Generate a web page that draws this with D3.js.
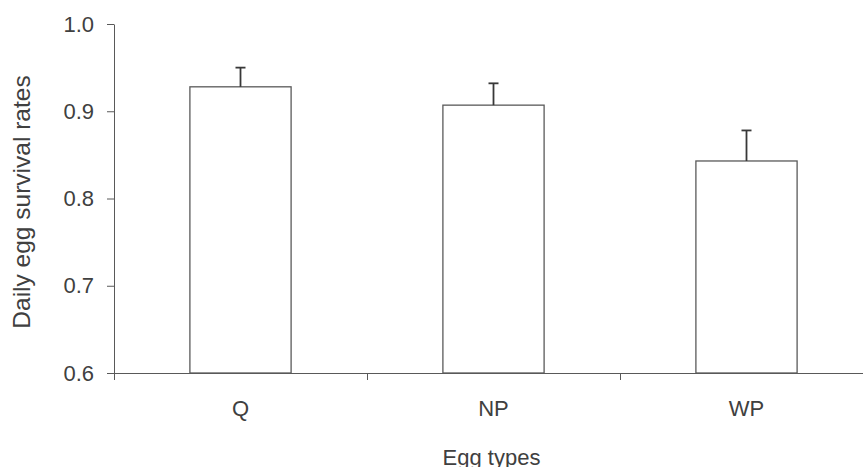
<!DOCTYPE html>
<html>
<head>
<meta charset="utf-8">
<script src="https://cdn.jsdelivr.net/npm/d3@7"></script>
<style>
  body { margin: 0; background: #fff; }
  svg { display: block; font-family: "Liberation Sans", Arial, sans-serif; }
</style>
</head>
<body>
<svg width="863" height="467"></svg>
<script>
// Chart data
const categories = ['Q', 'NP', 'WP'];
const survivalRates = [0.928, 0.907, 0.843];
const errors = [0.022, 0.025, 0.035];
const yTicks = [0.6, 0.7, 0.8, 0.9, 1.0];

const data = categories.map((c, i) => ({ name: c, value: survivalRates[i], err: errors[i] }));

const svg = d3.select('svg');
const plotLeft = 114, plotRight = 873, plotTop = 24, plotBottom = 373;
const lineColor = '#595959';
const textColor = '#404040';

// Scales
const x = d3.scaleBand()
    .domain(categories)
    .range([plotLeft, plotRight])
    .paddingInner(0.6)
    .paddingOuter(0.3);

const xEdges = d3.scaleLinear().domain([0, categories.length]).range([plotLeft, plotRight]);

const y = d3.scaleLinear().domain([0.6, 1.0]).range([plotBottom, plotTop]);

// Bars
svg.append('g')
    .selectAll('rect')
    .data(data)
    .enter()
    .append('rect')
    .attr('x', d => x(d.name))
    .attr('y', d => y(d.value))
    .attr('width', x.bandwidth())
    .attr('height', d => y(0.6) - y(d.value))
    .attr('fill', '#fff')
    .attr('stroke', lineColor)
    .attr('stroke-width', 1.3);

// Error bars (upper only)
const errG = svg.append('g')
    .attr('stroke', '#383838')
    .attr('stroke-width', 1.8);

errG.selectAll('line.stem')
    .data(data)
    .enter()
    .append('line')
    .attr('class', 'stem')
    .attr('x1', d => x(d.name) + x.bandwidth() / 2)
    .attr('x2', d => x(d.name) + x.bandwidth() / 2)
    .attr('y1', d => y(d.value))
    .attr('y2', d => y(d.value + d.err));

errG.selectAll('line.cap')
    .data(data)
    .enter()
    .append('line')
    .attr('class', 'cap')
    .attr('x1', d => x(d.name) + x.bandwidth() / 2 - 5)
    .attr('x2', d => x(d.name) + x.bandwidth() / 2 + 5)
    .attr('y1', d => y(d.value + d.err))
    .attr('y2', d => y(d.value + d.err));

// Y axis
const yAxis = svg.append('g')
    .attr('transform', `translate(${plotLeft},0)`)
    .call(d3.axisLeft(y)
        .tickValues(yTicks)
        .tickFormat(d3.format('.1f'))
        .tickSize(7)
        .tickSizeOuter(0)
        .tickPadding(13));

yAxis.select('.domain').attr('stroke', lineColor);
yAxis.selectAll('.tick line').attr('stroke', lineColor);
yAxis.selectAll('.tick text')
    .attr('fill', textColor)
    .style('font-size', '22px');

// X axis: ticks at category boundaries
const xAxis = svg.append('g')
    .attr('transform', `translate(0,${plotBottom})`)
    .call(d3.axisBottom(xEdges)
        .tickValues(d3.range(categories.length + 1))
        .tickFormat('')
        .tickSize(7)
        .tickSizeOuter(0));

xAxis.select('.domain').attr('stroke', lineColor);
xAxis.selectAll('.tick line').attr('stroke', lineColor);

// Category labels
svg.append('g')
    .selectAll('text')
    .data(categories)
    .enter()
    .append('text')
    .attr('x', d => x(d) + x.bandwidth() / 2)
    .attr('y', 416)
    .attr('text-anchor', 'middle')
    .attr('fill', textColor)
    .style('font-size', '22px')
    .text(d => d);

// Axis titles
svg.append('text')
    .attr('x', (plotLeft + xEdges(categories.length)) / 2 - 2)
    .attr('y', 465)
    .attr('text-anchor', 'middle')
    .attr('fill', textColor)
    .style('font-size', '22px')
    .text('Egg types');

svg.append('text')
    .attr('transform', `translate(30,202) rotate(-90)`)
    .attr('text-anchor', 'middle')
    .attr('fill', textColor)
    .style('font-size', '24.5px')
    .text('Daily egg survival rates');
</script>
</body>
</html>
